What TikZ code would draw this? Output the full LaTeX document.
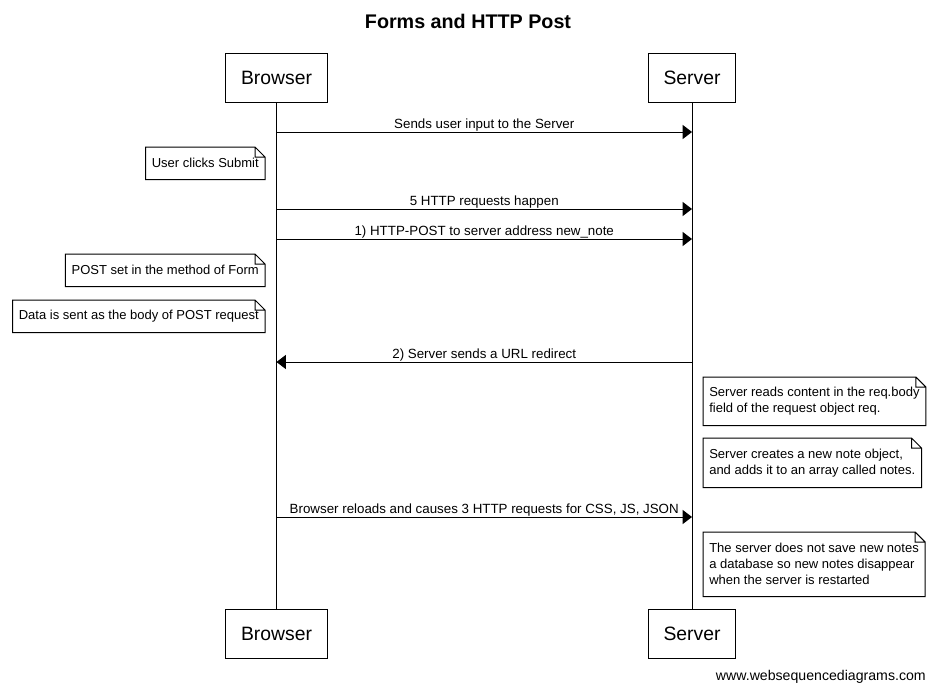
\documentclass[tikz,border=0pt]{standalone}
\usepackage{fontspec}
\setmainfont{Liberation Sans}
\usetikzlibrary{arrows.meta,positioning}

\begin{document}
\begin{tikzpicture}[x=0.75pt, y=-0.75pt,
  actor/.style={draw=black, line width=0.75pt, font=\fontsize{14.5}{16}\selectfont, inner xsep=11.5pt, minimum height=36.75pt},
  notebox/.style={font=\fontsize{9.75}{12}\selectfont, align=left, inner xsep=4.5pt, inner ysep=2pt},
  msgarr/.style={-{Triangle[length=7pt, width=10.5pt]}, line width=0.75pt},
  msglbl/.style={font=\fontsize{10}{12}\selectfont, anchor=base, yshift=2.5pt, inner sep=0pt}
]
\useasboundingbox (0,0) rectangle (936,693);

% title and participants
\node[font=\fontsize{14.8}{17}\selectfont\bfseries] (title) at (468,21) {Forms and HTTP Post};
\node[actor] (btop) at (276.5,77.5) {Browser};
\node[actor] (stop) at (692,77.5) {Server};
\node[actor] (bbot) at (276.5,633.5) {Browser};
\node[actor] (sbot) at (692,633.5) {Server};
\draw[line width=0.75pt] (btop) -- (bbot);
\draw[line width=0.75pt] (stop) -- (sbot);

% message rows on the lifelines
\foreach \r/\y in {m1/132, m2/209, m3/239, m4/362, m5/517} {
  \coordinate (b\r) at (276.5,\y);
  \coordinate (s\r) at (692,\y);
}

\draw[msgarr] (bm1) -- node[msglbl] {Sends user input to the Server} (sm1);
\draw[msgarr] (bm2) -- node[msglbl] {5 HTTP requests happen} (sm2);
\draw[msgarr] (bm3) -- node[msglbl] {1) HTTP-POST to server address new\_note} (sm3);
\draw[msgarr] (sm4) -- node[msglbl] {2) Server sends a URL redirect} (bm4);
\draw[msgarr] (bm5) -- node[msglbl] {Browser reloads and causes 3 HTTP requests for CSS, JS, JSON} (sm5);

% notes
\node[notebox, anchor=north east, minimum height=24pt] (n1) at (265,147) {User clicks Submit};
\node[notebox, anchor=north east, minimum height=24pt] (n2) at (265,254) {POST set in the method of Form};
\node[notebox, anchor=north east, minimum height=24pt] (n3) at (265,300) {Data is sent as the body of POST request};
\node[notebox, anchor=north west, minimum height=36pt] (n4) at (703,377) {Server reads content in the req.body\\field of the request object req.};
\node[notebox, anchor=north west, minimum height=36.75pt] (n5) at (703,438) {Server creates a new note object,\\and adds it to an array called notes.};
\node[notebox, anchor=north west, minimum height=48pt] (n6) at (703,532) {The server does not save new notes\\a database so new notes disappear\\when the server is restarted};
\foreach \n in {n1,n2,n3,n4,n5,n6}
  \draw[line width=0.75pt] (\n.north west) -- ([xshift=-7.5pt]\n.north east) -- ([yshift=-7.5pt]\n.north east) -- (\n.south east) -- (\n.south west) -- cycle
    ([xshift=-7.5pt]\n.north east) |- ([yshift=-7.5pt]\n.north east);

\node[font=\fontsize{10.6}{12}\selectfont, anchor=east, inner sep=0pt] (credit) at (926,677) {www.websequencediagrams.com};
\end{tikzpicture}
\end{document}
